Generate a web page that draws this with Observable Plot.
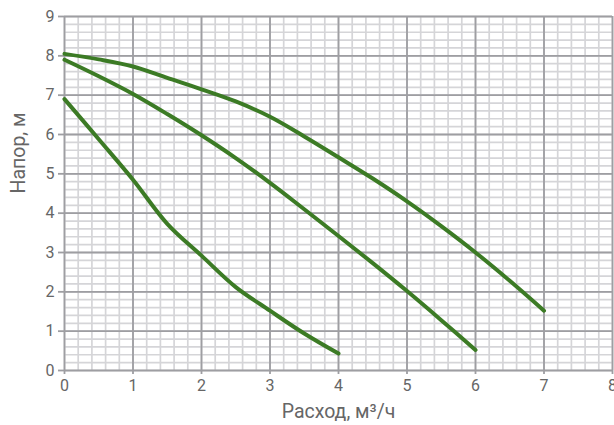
<!DOCTYPE html>
<html>
<head>
<meta charset="utf-8">
<script src="https://cdn.jsdelivr.net/npm/d3@7"></script>
<script src="https://cdn.jsdelivr.net/npm/@observablehq/plot@0.6"></script>
<style>
  html, body { margin: 0; padding: 0; background: #fff; }
  #chart { width: 614px; height: 425px; }
</style>
</head>
<body>
<div id="chart"></div>
<script>
// Flow (m³/h) sample points and head (m) for each curve
const flow1 = [0, 0.5, 1, 1.5, 2, 2.5, 3, 3.5, 4, 4.5, 5, 5.5, 6, 6.5, 7];
const head1 = [8.05, 7.91, 7.73, 7.44, 7.15, 6.84, 6.45, 5.95, 5.42, 4.88, 4.3, 3.67, 3.0, 2.28, 1.52];

const flow2 = [0, 0.5, 1, 1.5, 2, 2.5, 3, 3.5, 4, 4.5, 5, 5.5, 6];
const head2 = [7.9, 7.48, 7.03, 6.52, 5.98, 5.4, 4.77, 4.1, 3.42, 2.73, 2.02, 1.28, 0.52];

const flow3 = [0, 0.5, 1, 1.5, 2, 2.5, 3, 3.5, 4];
const head3 = [6.9, 5.88, 4.85, 3.73, 2.92, 2.12, 1.52, 0.94, 0.43];

const xTicks = [0, 1, 2, 3, 4, 5, 6, 7, 8];
const yTicks = [0, 1, 2, 3, 4, 5, 6, 7, 8, 9];
const xMinor = d3.range(0, 41).map(i => i / 5);
const yMinor = d3.range(0, 46).map(i => i / 5);

const xLabel = "Расход, м³/ч";
const yLabel = "Напор, м";

const toRows = (xs, ys, id) => xs.map((x, i) => ({x, y: ys[i], id}));
const rows = [
  ...toRows(flow1, head1, "c1"),
  ...toRows(flow2, head2, "c2"),
  ...toRows(flow3, head3, "c3")
];

const green = "#3c7b25";

const chart = Plot.plot({
  width: 614,
  height: 425,
  marginLeft: 64,
  marginRight: 2,
  marginTop: 16,
  marginBottom: 55,
  style: {fontFamily: "Roboto, sans-serif", fontSize: "16px", color: "#666", background: "#fff"},
  x: {domain: [0, 8]},
  y: {domain: [0, 9]},
  marks: [
    Plot.ruleX(xMinor, {stroke: "#d5d5d8", strokeWidth: 1.7}),
    Plot.ruleY(yMinor, {stroke: "#d5d5d8", strokeWidth: 1.7}),
    Plot.ruleX(xTicks, {stroke: "#9e9ea2", strokeWidth: 1.8}),
    Plot.ruleY(yTicks, {stroke: "#9e9ea2", strokeWidth: 1.8}),
    Plot.axisX({ticks: xTicks, tickSize: 4, tickPadding: 5, stroke: "#9e9ea2", strokeWidth: 1.8, fontSize: 16,
      label: null, fill: "#666"}),
    Plot.axisY({ticks: yTicks, tickSize: 6, tickPadding: 4, stroke: "#9e9ea2", strokeWidth: 1.8, fontSize: 16,
      label: null, fill: "#666"}),
    Plot.text([xLabel], {frameAnchor: "bottom", dy: 41, fontSize: 19.5, fill: "#666", lineAnchor: "middle"}),
    Plot.text([yLabel], {frameAnchor: "left", dx: -46, rotate: -90, fontSize: 19.5, fill: "#666", lineAnchor: "middle"}),
    Plot.line(rows, {x: "x", y: "y", z: "id", stroke: green, strokeWidth: 4, curve: "catmull-rom"})
  ]
});
document.getElementById("chart").appendChild(chart);
</script>
</body>
</html>
